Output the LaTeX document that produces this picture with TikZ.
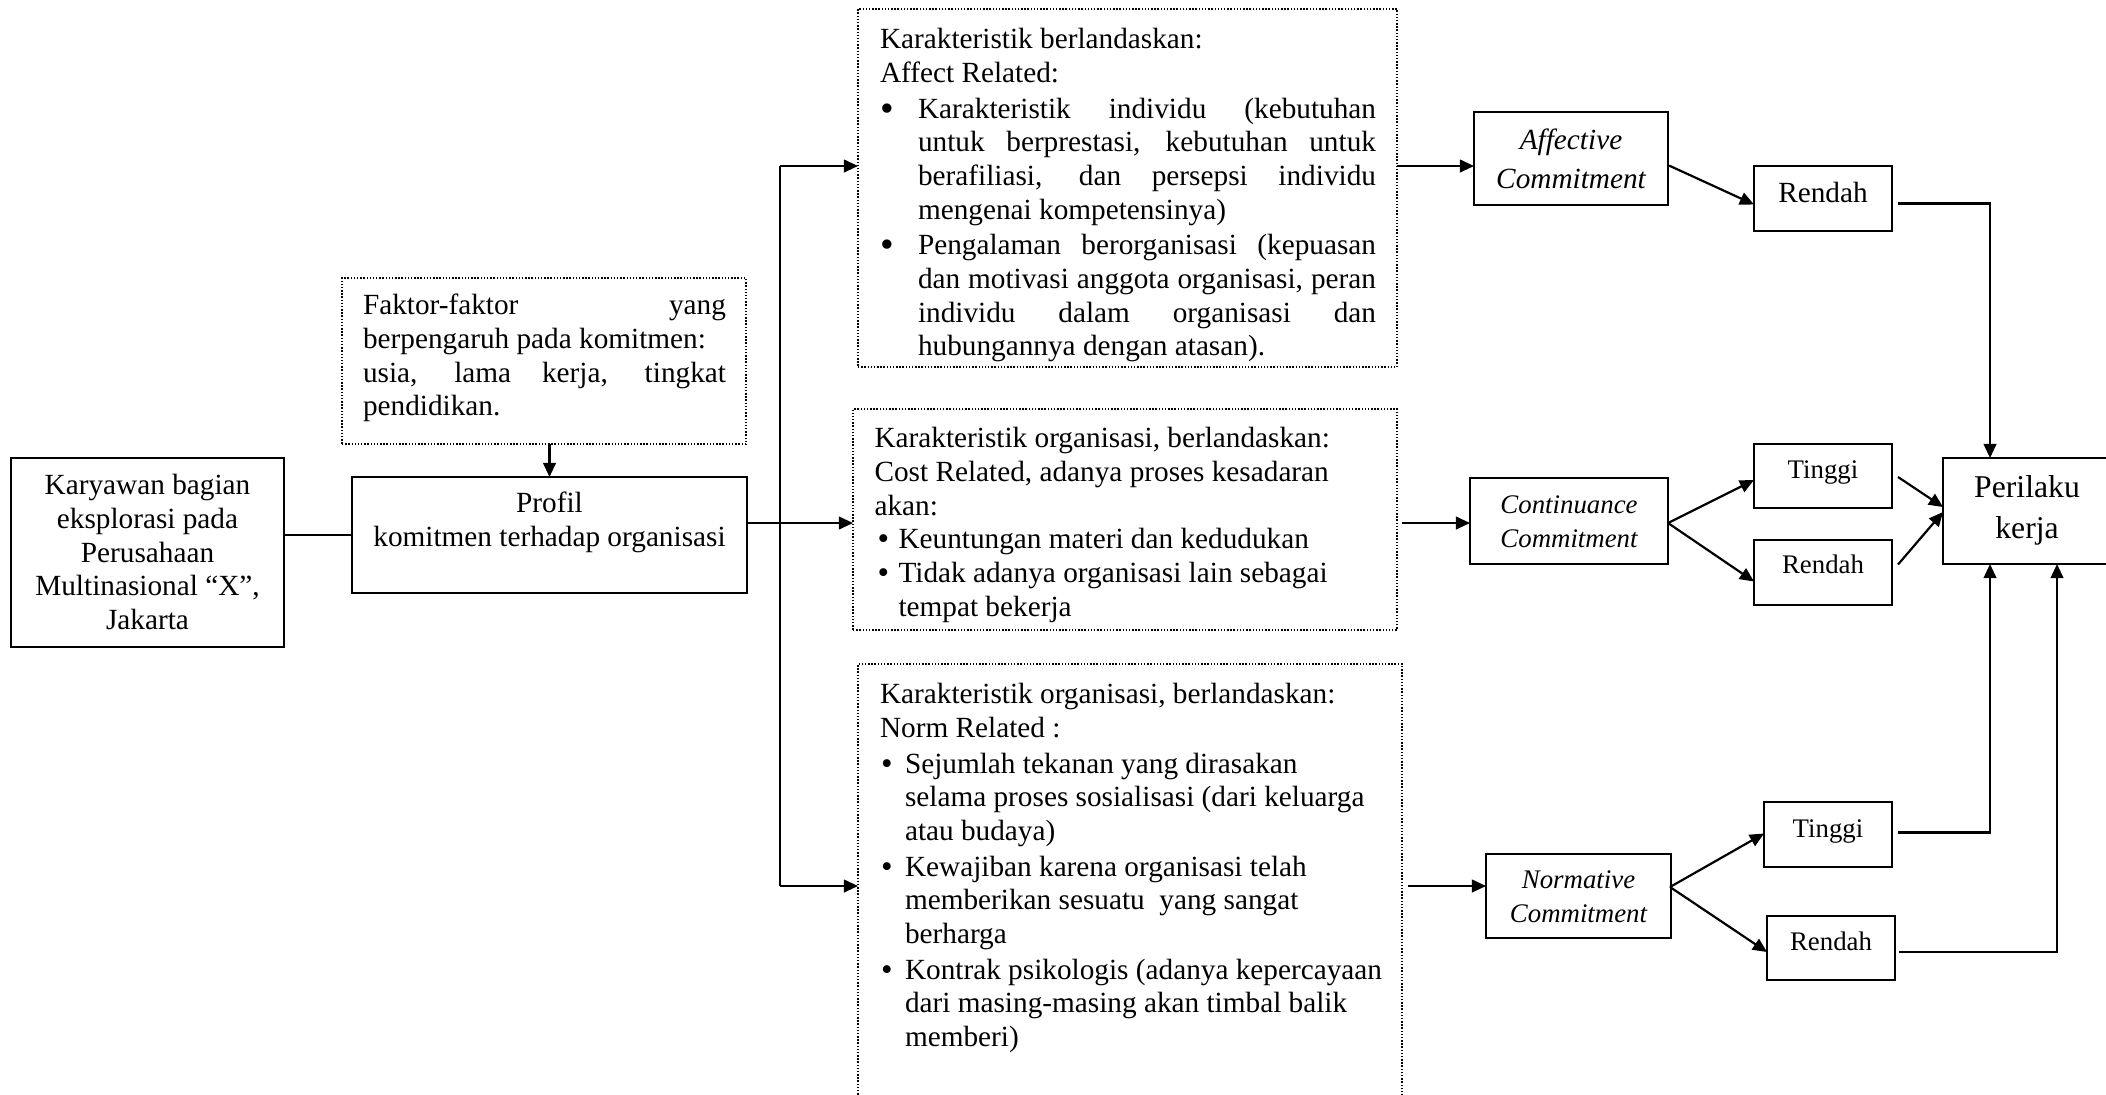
\documentclass[tikz,border=0pt]{standalone}
\usepackage{fontspec}
\setmainfont{Liberation Serif}
\usetikzlibrary{arrows.meta,calc}
\newdimen\upx \upx=0.41pt
\hyphenpenalty=10000 \exhyphenpenalty=10000
\hbadness=10000 \vbadness=10000 \hfuzz=5pt \vfuzz=50pt
\newcommand\fA{\fontsize{12}{13.8}\selectfont}
\newcommand\fB{\fontsize{11}{12.65}\selectfont}
\newcommand\fC{\fontsize{11}{14.3}\selectfont}
% #1 height, #2 width, #3 top skip, #4 setup, #5 content
\newcommand\tbx[5]{\parbox[c][#1\upx][t]{#2\upx}{#4\vspace*{#3\upx}\strut #5}}
\newcommand\jst[2]{\leftskip=#1\upx\rightskip=#2\upx}
\newcommand\rag[1]{\raggedright\leftskip=#1\upx}
\newcommand\blA{\raisebox{-1.3pt}{\fontsize{16}{16}\selectfont\textbullet}}
\newcommand\blB{\raisebox{-0.4pt}{\fontsize{13.5}{13.5}\selectfont\textbullet}}
% #1 hanging indent, #2 bullet offset, #3 bullet, #4 text
\newcommand\itm[4]{\par\hangindent=#1\upx\hangafter=1\noindent\hbox to #1\upx{\hspace*{#2\upx}#3\hfil}#4\par}
\begin{document}
\begin{tikzpicture}[x=0.41pt,y=-0.41pt,
  box/.style={draw, line width=0.6pt, inner sep=0pt, outer sep=0pt, anchor=north west},
  dbox/.style={box, dash pattern=on 0.6pt off 0.7pt},
  con/.style={line width=0.9pt},
  arr/.style={con, -{Triangle[length=5.8pt,width=5.2pt]}}]
\useasboundingbox (0,0) rectangle (2106,1094);

% left part
\node[box, minimum width=273\upx, minimum height=189\upx] (kar) at (11,458)
  {\tbx{189}{273}{13.4}{\fA\centering}{Karyawan bagian\\ eksplorasi pada\\ Perusahaan\\ Multinasional “X”,\\ Jakarta}};
\node[dbox, minimum width=404\upx, minimum height=166\upx] (fak) at (342,278)
  {\tbx{166}{404}{13.4}{\fA\jst{21}{20}}{Faktor-faktor yang\linebreak berpengaruh pada komitmen:\\ usia, lama kerja, tingkat\linebreak pendidikan.}};
\node[box, minimum width=395\upx, minimum height=116\upx] (pro) at (352,477)
  {\tbx{116}{395}{12.4}{\fA\centering}{Profil\\ komitmen terhadap organisasi}};

% middle text boxes
\node[dbox, minimum width=539\upx, minimum height=358\upx] (tA) at (858,9)
  {\tbx{358}{539}{14.4}{\fA\jst{22}{21}\parskip=0.8pt}{Karakteristik berlandaskan:\\ Affect Related:\itm{38}{0}{\blA}{Karakteristik individu (kebutuhan\linebreak untuk berprestasi, kebutuhan untuk\linebreak berafiliasi, dan persepsi individu\linebreak mengenai kompetensinya)}\itm{38}{0}{\blA}{Pengalaman berorganisasi (kepuasan\linebreak dan motivasi anggota organisasi, peran\linebreak individu dalam organisasi dan\linebreak hubungannya dengan atasan).}}};
\node[dbox, minimum width=544\upx, minimum height=221\upx] (tC) at (853,409)
  {\tbx{221}{544}{15.4}{\fA\rag{21.5}}{Karakteristik organisasi, berlandaskan:\\ Cost Related, adanya proses kesadaran\\ akan:\itm{24}{3}{\blB}{Keuntungan materi dan kedudukan}\itm{24}{3}{\blB}{Tidak adanya organisasi lain sebagai\newline tempat bekerja}}};
\node[dbox, minimum width=544\upx, minimum height=436\upx] (tN) at (858,664)
  {\tbx{436}{544}{14.4}{\fA\rag{22}\parskip=0.8pt}{Karakteristik organisasi, berlandaskan:\\ Norm Related :\itm{25}{1}{\blB}{Sejumlah tekanan yang dirasakan\newline selama proses sosialisasi (dari keluarga\newline atau budaya)}\itm{25}{1}{\blB}{Kewajiban karena organisasi telah\newline memberikan sesuatu\ \ yang sangat\newline berharga}\itm{25}{1}{\blB}{Kontrak psikologis (adanya kepercayaan\newline dari masing-masing akan timbal balik\newline memberi)}}};

% commitment boxes
\node[box, minimum width=194\upx, minimum height=93\upx] (A) at (1474,112)
  {\tbx{93}{194}{14.4}{\fA\itshape\centering}{Affective\\[1.8pt] Commitment}};
\node[box, minimum width=198\upx, minimum height=86\upx] (C) at (1470,478)
  {\tbx{86}{198}{10.6}{\fC\itshape\centering}{Continuance\\ Commitment}};
\node[box, minimum width=185\upx, minimum height=84\upx] (N) at (1486,854)
  {\tbx{84}{185}{9.6}{\fC\itshape\centering}{Normative\\ Commitment}};

% level boxes
\node[box, minimum width=138\upx, minimum height=65\upx] (R1) at (1754,166)
  {\tbx{65}{138}{13.4}{\fA\centering}{Rendah}};
\node[box, minimum width=138\upx, minimum height=64\upx] (T2) at (1754,444)
  {\tbx{64}{138}{12.4}{\fB\centering}{Tinggi}};
\node[box, minimum width=138\upx, minimum height=65\upx] (R2) at (1754,540)
  {\tbx{65}{138}{11.4}{\fB\centering}{Rendah}};
\node[box, minimum width=128\upx, minimum height=65\upx] (T3) at (1764,802)
  {\tbx{65}{128}{13.4}{\fB\centering}{Tinggi}};
\node[box, minimum width=128\upx, minimum height=64\upx] (R3) at (1767,916)
  {\tbx{64}{128}{12.4}{\fB\centering}{Rendah}};

% outcome
\node[box, minimum width=168\upx, minimum height=106\upx] (P) at (1943,458)
  {\tbx{106}{168}{10}{\fontsize{13}{17}\selectfont\centering}{Perilaku\\ kerja}};

% helper coordinates
\coordinate (bA) at (780,166);
\coordinate (bC) at (780,523);
\coordinate (bN) at (780,886);
\coordinate (xa) at (1990,0);
\coordinate (xb) at (2057,0);

% connectors
\draw[con] (kar.east |- pro.west) -- (pro.west);
\draw[arr] (pro.north |- fak.south) -- (pro.north);
\draw[con] (pro.east |- bC) -- (bC);
\draw[con] (bA) -- (bN);
\draw[arr] (bA) -- (bA -| tA.west);
\draw[arr] (bC) -- (bC -| tC.west);
\draw[arr] (bN) -- (bN -| tN.west);

\draw[arr] (bA -| tA.east) -- (bA -| A.west);
\draw[arr] ($(bC -| tC.east)+(5,0)$) -- (bC -| C.west);
\draw[arr] ($(bN -| tN.east)+(6,0)$) -- (bN -| N.west);

\draw[arr] ($(A.east)+(1,7)$) -- ($(R1.west)+(0,6)$);
\draw[arr] ($(C.east)+(0,2)$) -- ($(T2.west)+(0,4)$);
\draw[arr] ($(C.east)+(0,2)$) -- ($(R2.west)+(0,9)$);
\draw[arr] ($(N.east)+(-1,-9)$) -- ($(T3.west)+(0,-1)$);
\draw[arr] ($(N.east)+(-1,-9)$) -- ($(R3.west)+(0,4)$);

\draw[arr] ($(R1.east)+(6,5)$) -| (P.north -| xa);
\draw[arr] ($(T2.east)+(6,1)$) -- ($(P.west)+(0,-4)$);
\draw[arr] ($(R2.east)+(6,-8)$) -- ($(P.west)+(0,1)$);
\draw[arr] ($(T3.east)+(6,-2)$) -| (P.south -| xa);
\draw[arr] ($(R3.east)+(4,4)$) -| (P.south -| xb);
\end{tikzpicture}
\end{document}
